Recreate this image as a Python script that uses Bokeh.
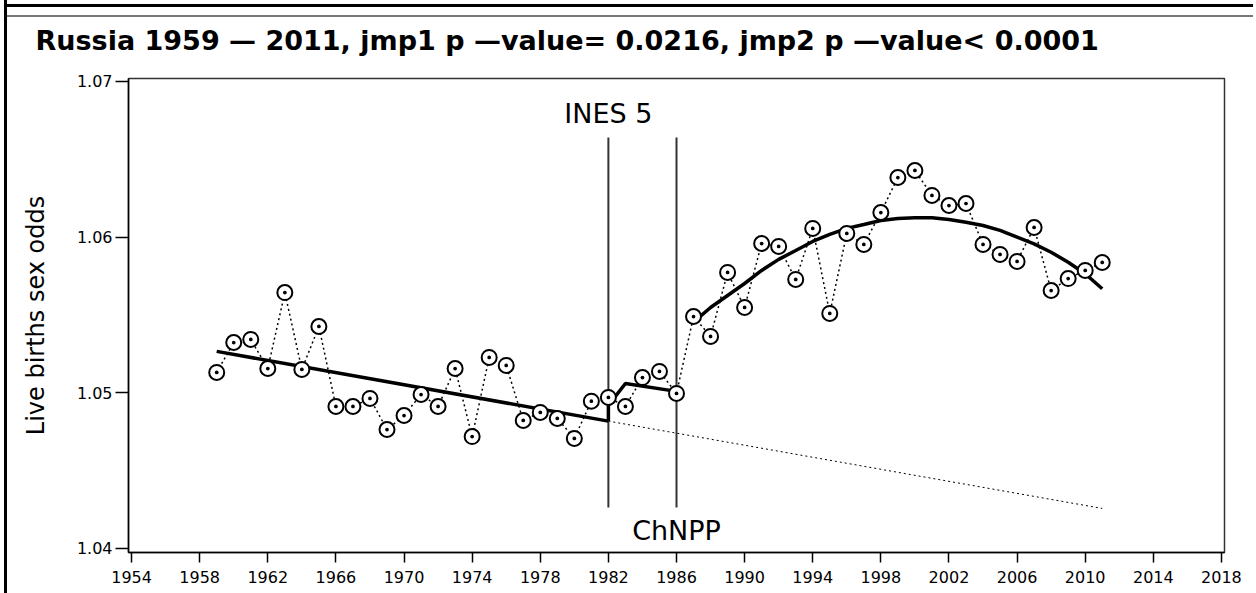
from bokeh.plotting import figure
from bokeh.models import FixedTicker, PrintfTickFormatter, Label
from bokeh.embed import file_html
from bokeh.resources import INLINE

# ---------------- data ----------------
years = list(range(1959, 2012))
sex_odds = [1.05131, 1.05323, 1.05343, 1.05156, 1.05644, 1.05150, 1.05426, 1.04912,
            1.04912, 1.04964, 1.04764, 1.04854, 1.04989, 1.04912, 1.05156, 1.04719,
            1.05227, 1.05176, 1.04822, 1.04874, 1.04835, 1.04707, 1.04946, 1.04970,
            1.04912, 1.05098, 1.05137, 1.04996, 1.05490, 1.05362, 1.05773, 1.05548,
            1.05959, 1.05940, 1.05728, 1.06056, 1.05510, 1.06024, 1.05953, 1.06158,
            1.06383, 1.06428, 1.06268, 1.06203, 1.06216, 1.05953, 1.05889, 1.05844,
            1.06062, 1.05657, 1.05734, 1.05786, 1.05837]

fit1_years = [1959, 1982]
fit1_vals = [1.05266, 1.04818]

fit2_years = [1982, 1982, 1983, 1986]
fit2_vals = [1.04818, 1.04919, 1.05060, 1.05009]

fit3_years = list(range(1987, 2012))
fit3_vals = [1.05454, 1.05548, 1.05625, 1.05702, 1.05786, 1.05857, 1.05914, 1.05972,
             1.06017, 1.06056, 1.06081, 1.06107, 1.06120, 1.06124, 1.06124, 1.06113,
             1.06096, 1.06075, 1.06043, 1.06000, 1.05957, 1.05903, 1.05839, 1.05765,
             1.05668]

trend_years = [1982, 2011]
trend_vals = [1.04818, 1.04257]

event_years = [1982, 1986]
event_labels = ["INES 5", "ChNPP"]
event_label_y = [1.06792, 1.04115]
event_line_bottom = 1.04263
event_line_top = 1.06640

x_ticks = list(range(1954, 2019, 4))
y_ticks = [1.04, 1.05, 1.06, 1.07]

title_text = "Russia 1959  \u2014  2011, jmp1 p \u2014value=  0.0216, jmp2 p \u2014value<  0.0001"
y_label_text = "Live births sex odds"

# ---------------- figure ----------------
# page decoration: black line on the left (host border) and, via background
# gradients, a black and a thin grey rule across the top
p = figure(width=1249, height=593, x_range=(1953.82, 2018.18), y_range=(1.03974, 1.07019),
           output_backend="svg", toolbar_location=None,
           min_border_left=121, min_border_right=32, min_border_top=78, min_border_bottom=41)
p.styles = {
    "margin-left": "4px",
    "border-left": "3px solid black",
    "background-color": "white",
    "background-image": "linear-gradient(#000000, #000000), linear-gradient(#777777, #777777)",
    "background-size": "100% 3px, 100% 2px",
    "background-position": "0px 4px, 0px 15px",
    "background-repeat": "no-repeat, no-repeat",
}
p.border_fill_color = None
p.background_fill_color = "white"
p.xgrid.visible = False
p.ygrid.visible = False
p.outline_line_color = "#333333"
p.outline_line_width = 1.5

p.title.text = title_text
p.title.align = "left"
p.title.offset = -93
p.title.standoff = 45
p.title.text_font = "DejaVu Sans"
p.title.text_font_style = "bold"
p.title.text_font_size = "27px"
p.title.text_color = "black"

for ax in (p.xaxis[0], p.yaxis[0]):
    ax.axis_line_color = "black"
    ax.axis_line_width = 1.5
    ax.major_tick_line_color = "black"
    ax.major_tick_line_width = 1.5
    ax.major_tick_in = 0
    ax.minor_tick_line_color = None
    ax.major_label_text_font = "DejaVu Sans"
    ax.major_label_text_font_size = "16px"
    ax.major_label_text_color = "black"

p.xaxis.ticker = FixedTicker(ticks=x_ticks)
p.yaxis.ticker = FixedTicker(ticks=y_ticks)
p.yaxis.formatter = PrintfTickFormatter(format="%.2f")
p.xaxis.major_tick_out = 10
p.xaxis.major_label_standoff = 8
p.yaxis.major_tick_out = 13
p.yaxis.major_label_standoff = 3

p.yaxis.axis_label = y_label_text
p.yaxis.axis_label_text_font = "DejaVu Sans"
p.yaxis.axis_label_text_font_style = "normal"
p.yaxis.axis_label_text_font_size = "24px"
p.yaxis.axis_label_text_color = "black"
p.yaxis.axis_label_standoff = 24

# trend extension (dotted)
p.line(trend_years, trend_vals, line_color="black", line_width=1, line_dash="2 3")

# vertical event lines
for yr in event_years:
    p.segment(x0=[yr], y0=[event_line_bottom], x1=[yr], y1=[event_line_top],
              line_color="#333333", line_width=2)

# connecting dotted line
p.line(years, sex_odds, line_color="black", line_width=1.5, line_dash="2 3")

# fit lines
p.line(fit1_years, fit1_vals, line_color="black", line_width=3.5)
p.line(fit2_years, fit2_vals, line_color="black", line_width=3.5)
p.line(fit3_years, fit3_vals, line_color="black", line_width=3.5)

# observations
p.scatter(years, sex_odds, marker="circle_dot", size=15, line_color="black",
          line_width=2, fill_color="white")

# event labels
for yr, txt, ly in zip(event_years, event_labels, event_label_y):
    p.add_layout(Label(x=yr, y=ly, text=txt, text_align="center",
                       text_baseline="alphabetic", text_font="DejaVu Sans",
                       text_font_size="27px", text_color="black"))

open("out.html", "w").write(file_html(p, INLINE))
